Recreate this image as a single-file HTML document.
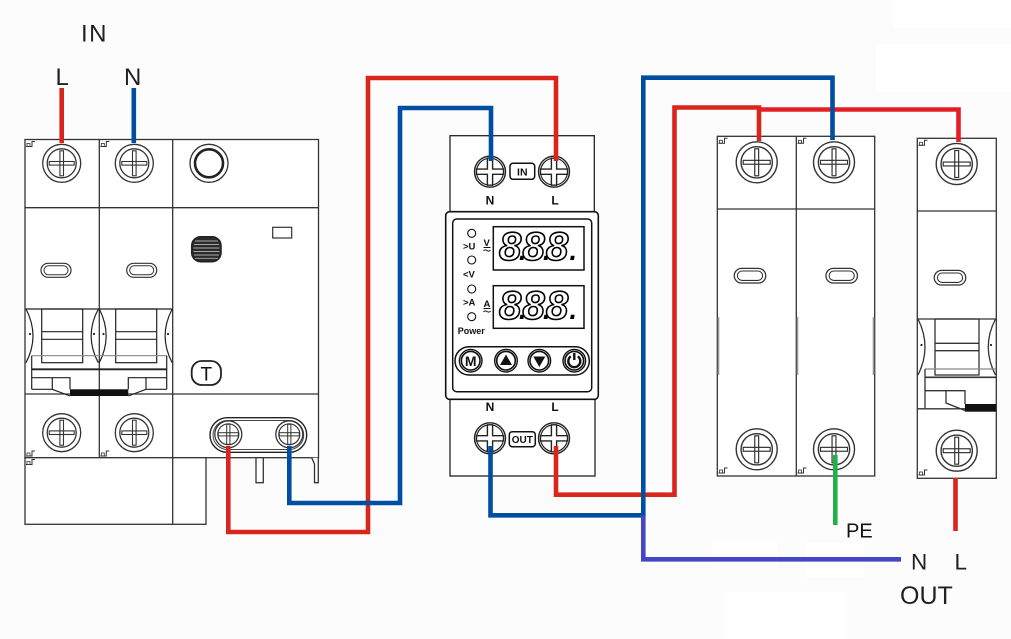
<!DOCTYPE html>
<html><head><meta charset="utf-8"><style>
html,body{margin:0;padding:0;background:#fcfcfc;}
svg{display:block}
text{font-family:"Liberation Sans",sans-serif}
</style></head><body>
<svg width="1011" height="639" viewBox="0 0 1011 639" xmlns="http://www.w3.org/2000/svg">
<defs>
<g id="tA">
 <circle r="19" fill="#fff" stroke="#333" stroke-width="1.3"/>
 <circle r="14.5" fill="none" stroke="#333" stroke-width="1.3"/>
 <rect x="-12.5" y="-1.8" width="25" height="3.6" fill="none" stroke="#333" stroke-width="1.1"/>
 <rect x="-1.8" y="-12.5" width="3.6" height="25" fill="none" stroke="#333" stroke-width="1.1"/>
</g>
<g id="tB">
 <circle r="15.5" fill="#fff" stroke="#222" stroke-width="1.4"/>
 <circle r="13.5" fill="none" stroke="#222" stroke-width="1.2"/>
 <path d="M-2.6,-13.5H2.6V-2.6H13.5V2.6H2.6V13.5H-2.6V2.6H-13.5V-2.6H-2.6Z" fill="#fff" stroke="#222" stroke-width="1.4"/>
</g>
<g id="tC">
 <circle r="13.5" fill="#fff" stroke="#333" stroke-width="1.3"/>
 <circle r="10.5" fill="none" stroke="#333" stroke-width="1.2"/>
 <rect x="-10" y="-1.6" width="20" height="3.2" fill="none" stroke="#333" stroke-width="1"/>
 <rect x="-1.6" y="-10" width="3.2" height="20" fill="none" stroke="#333" stroke-width="1"/>
</g>
<g id="oval">
 <rect x="-15" y="-7" width="30" height="14" rx="7" fill="none" stroke="#333" stroke-width="1.2"/>
 <rect x="-12" y="-4.5" width="24" height="9" rx="4.5" fill="none" stroke="#333" stroke-width="1"/>
</g>
<g id="notch">
 <path d="M0,6H6V1H9" fill="none" stroke="#333" stroke-width="1"/>
 <rect x="1" y="3" width="3" height="3" fill="none" stroke="#333" stroke-width="0.8"/>
</g>
</defs>

<!-- subtle white patches -->
<rect x="893" y="0" width="118" height="28" fill="#fff"/>
<rect x="876" y="44" width="135" height="48" fill="#fff"/>
<rect x="713" y="541" width="64" height="27" fill="#fff"/>
<rect x="806" y="543" width="57" height="34" fill="#fff"/>
<rect x="725" y="592" width="121" height="47" fill="#fff"/>

<!-- ============ LEFT RCBO ============ -->
<g fill="none" stroke="#333" stroke-width="1.3">
 <rect x="25" y="139.5" width="293.5" height="318.2" fill="#fff"/>
 <rect x="25" y="457.7" width="181" height="66.6" fill="#fff"/>
 <line x1="99.3" y1="139.5" x2="99.3" y2="457.7"/>
 <line x1="172.7" y1="139.5" x2="172.7" y2="524.3"/>
 <line x1="25" y1="207.7" x2="318.5" y2="207.7"/>
 <line x1="25" y1="394" x2="318.5" y2="394"/>
 <rect x="256" y="457.7" width="7.3" height="25" fill="#fff"/>
 <path d="M311.7,457.7L314.5,464V482.7H318.3V457.7" fill="#fff"/>
</g>
<use href="#notch" x="26" y="140.5"/>
<use href="#notch" x="100.3" y="140.5"/>
<use href="#notch" x="26" y="450"/>
<use href="#notch" x="100.3" y="450"/>
<use href="#notch" x="26" y="458.5"/>
<use href="#tA" x="61.7" y="163.3"/>
<use href="#tA" x="134.3" y="163.3"/>
<circle cx="209" cy="163.3" r="19" fill="#fff" stroke="#333" stroke-width="1.3"/>
<circle cx="209" cy="163.3" r="14" fill="none" stroke="#222" stroke-width="2.6"/>
<use href="#oval" x="56" y="270.3"/>
<use href="#oval" x="141.7" y="270.3"/>
<rect x="191.7" y="236.7" width="29.3" height="25" rx="9" fill="#2a2a2a" stroke="#222" stroke-width="1.5"/>
<g stroke="#aaa" stroke-width="0.9">
 <line x1="195" y1="241" x2="218" y2="241"/>
 <line x1="194" y1="244.5" x2="219" y2="244.5"/>
 <line x1="193.5" y1="248" x2="219.5" y2="248"/>
 <line x1="193.5" y1="251.5" x2="219.5" y2="251.5"/>
 <line x1="194" y1="255" x2="219" y2="255"/>
 <line x1="195" y1="258.3" x2="218" y2="258.3"/>
</g>
<rect x="272.7" y="227.3" width="19" height="10.7" fill="none" stroke="#333" stroke-width="1.2"/>
<rect x="191.7" y="361" width="29.3" height="24" rx="10" fill="#fff" stroke="#222" stroke-width="1.8"/>
<text x="206.3" y="380.5" font-size="19" text-anchor="middle" fill="#111">T</text>
<g fill="none" stroke="#222" stroke-width="1.2">
 <line x1="25.7" y1="309" x2="172.7" y2="309"/>
 <path d="M26,309Q40,336 26,362.7"/>
 <path d="M98.3,309Q84,336 98.3,362.7"/>
 <path d="M99.3,309Q113,336 99.3,362.7"/>
 <path d="M172.2,309Q158,336 172.2,362.7"/>
 <rect x="41.7" y="309" width="41" height="53.7"/>
 <rect x="115.7" y="309" width="41" height="53.7"/>
 <line x1="41.7" y1="331.7" x2="82.7" y2="331.7"/>
 <line x1="41.7" y1="339.3" x2="82.7" y2="339.3"/>
 <line x1="115.7" y1="331.7" x2="156.7" y2="331.7"/>
 <line x1="115.7" y1="339.3" x2="156.7" y2="339.3"/>
 <line x1="31.7" y1="355.7" x2="166.7" y2="355.7" stroke="#888"/>
 <line x1="31.7" y1="355.7" x2="31.7" y2="389.3"/>
 <line x1="166.7" y1="355.7" x2="166.7" y2="389.3"/>
 <line x1="31.7" y1="369.3" x2="166.7" y2="369.3" stroke-width="1.9"/>
 <path d="M31.7,377.7H70V389.3M52.3,377.7V389.3L70,396M31.7,389.3H52.3"/>
 <path d="M166.7,377.7H128.3V389.3M146,377.7V389.3L128.3,396M166.7,389.3H146"/>
</g>
<rect x="70" y="389.3" width="58.3" height="6.7" fill="#111"/>
<g fill="#222">
 <circle cx="30" cy="334" r="1.1"/><circle cx="94" cy="334" r="1.1"/>
 <circle cx="103.5" cy="334" r="1.1"/><circle cx="168" cy="334" r="1.1"/>
</g>
<use href="#tA" x="61.7" y="432.7"/>
<use href="#tA" x="134.3" y="432.7"/>
<rect x="210" y="417.7" width="96.7" height="34.6" rx="17.3" fill="#fff" stroke="#222" stroke-width="1.4"/>
<rect x="213" y="420.5" width="90.7" height="29" rx="14.5" fill="none" stroke="#444" stroke-width="1"/>
<use href="#tC" x="228.3" y="434.3"/>
<use href="#tC" x="289.3" y="434.3"/>

<!-- ============ CENTER DEVICE ============ -->
<rect x="450" y="135.7" width="144.3" height="80" fill="#fff" stroke="#222" stroke-width="1.3"/>
<rect x="450" y="395" width="145" height="81" fill="#fff" stroke="#222" stroke-width="1.3"/>
<rect x="445.7" y="211.7" width="152.6" height="187.6" rx="4" fill="#fff" stroke="#111" stroke-width="1.6"/>
<rect x="452.7" y="219" width="139" height="172.7" rx="4" fill="#fff" stroke="#111" stroke-width="1.5"/>
<use href="#tB" x="490" y="171.7"/>
<use href="#tB" x="554" y="171.7"/>
<rect x="510" y="163.3" width="24.7" height="16" rx="3" fill="#fff" stroke="#111" stroke-width="1.5"/>
<text x="522.3" y="175.5" font-size="10.5" font-weight="bold" text-anchor="middle" fill="#111">IN</text>
<text x="490" y="204.5" font-size="12" font-weight="bold" text-anchor="middle" fill="#111">N</text>
<text x="555" y="204.5" font-size="12" font-weight="bold" text-anchor="middle" fill="#111">L</text>
<rect x="493.3" y="226.7" width="90.7" height="43.3" fill="#fff" stroke="#111" stroke-width="1.5"/>
<rect x="493.3" y="285.7" width="90.7" height="42.6" fill="#fff" stroke="#111" stroke-width="1.5"/>
<g font-size="40" font-style="italic" font-weight="bold" fill="#fff" stroke="#000" stroke-width="1.6">
 <text y="260"><tspan x="499">8</tspan><tspan x="518" fill="#000" stroke="none" font-weight="normal">.</tspan><tspan x="522.5">8</tspan><tspan x="542" fill="#000" stroke="none" font-weight="normal">.</tspan><tspan x="546">8</tspan><tspan x="568.5" fill="#000" stroke="none" font-weight="normal">.</tspan></text>
 <text y="319"><tspan x="499">8</tspan><tspan x="518" fill="#000" stroke="none" font-weight="normal">.</tspan><tspan x="522.5">8</tspan><tspan x="542" fill="#000" stroke="none" font-weight="normal">.</tspan><tspan x="546">8</tspan><tspan x="568.5" fill="#000" stroke="none" font-weight="normal">.</tspan></text>
</g>
<g fill="#fff" stroke="#111" stroke-width="1.1">
 <circle cx="471.7" cy="233.3" r="4"/>
 <circle cx="471.7" cy="260" r="4"/>
 <circle cx="471.7" cy="289" r="4"/>
 <circle cx="471.7" cy="316.7" r="4"/>
</g>
<g font-size="9.5" font-weight="bold" fill="#111">
 <text x="463" y="249.5">&gt;U</text>
 <text x="483.5" y="246">V</text>
 <text x="463" y="277.5">&lt;V</text>
 <text x="463" y="305.5">&gt;A</text>
 <text x="483.5" y="307">A</text>
 <text x="457.7" y="333.8" font-size="9">Power</text>
</g>
<g fill="none" stroke="#111" stroke-width="1">
 <line x1="483.5" y1="247.5" x2="490.5" y2="247.5"/>
 <path d="M483.5,251Q485,249 487,250.5T490.5,250"/>
 <line x1="483.5" y1="308.5" x2="490.5" y2="308.5"/>
 <path d="M483.5,312Q485,310 487,311.5T490.5,311"/>
</g>
<rect x="455" y="346.7" width="134.3" height="28.3" rx="14" fill="#fff" stroke="#111" stroke-width="1.5"/>
<g fill="#fff" stroke="#111">
 <circle cx="470.7" cy="360.7" r="11.3" stroke-width="1.4"/>
 <circle cx="470.7" cy="360.7" r="9.3" stroke-width="1.6"/>
 <circle cx="506" cy="360.7" r="11.3" stroke-width="1.4"/>
 <circle cx="506" cy="360.7" r="9.3" stroke-width="1.6"/>
 <circle cx="539.3" cy="360.7" r="11.3" stroke-width="1.4"/>
 <circle cx="539.3" cy="360.7" r="9.3" stroke-width="1.6"/>
 <circle cx="574.3" cy="360.7" r="11.3" stroke-width="1.4"/>
 <circle cx="574.3" cy="360.7" r="9.3" stroke-width="1.6"/>
</g>
<text x="470.7" y="366" font-size="14" font-weight="bold" text-anchor="middle" fill="#111">M</text>
<path d="M506,354.5L512,365H500Z" fill="#111"/>
<path d="M539.3,367L533.3,356.5H545.3Z" fill="#111"/>
<path d="M570.8,356.3A6,6 0 1 0 577.8,356.3" fill="none" stroke="#111" stroke-width="2.4"/>
<line x1="574.3" y1="353" x2="574.3" y2="360" stroke="#111" stroke-width="2.4"/>
<text x="490" y="411" font-size="12" font-weight="bold" text-anchor="middle" fill="#111">N</text>
<text x="555" y="411" font-size="12" font-weight="bold" text-anchor="middle" fill="#111">L</text>
<use href="#tB" x="490" y="438.3"/>
<use href="#tB" x="554" y="438.3"/>
<rect x="509.3" y="431.7" width="26" height="15" rx="3" fill="#fff" stroke="#111" stroke-width="1.5"/>
<text x="522.3" y="443" font-size="10" font-weight="bold" text-anchor="middle" fill="#111">OUT</text>

<!-- ============ RIGHT SPD (2 pole) ============ -->
<g fill="none" stroke="#333" stroke-width="1.3">
 <rect x="717.3" y="136.3" width="157.4" height="339.7" fill="#fff"/>
 <line x1="796.3" y1="136.3" x2="796.3" y2="476"/>
 <line x1="717.3" y1="209" x2="874.7" y2="209"/>
</g>
<g stroke="#999" stroke-width="1.6">
 <line x1="718.5" y1="317" x2="718.5" y2="375"/>
 <line x1="797.5" y1="317" x2="797.5" y2="375"/>
 <line x1="873.5" y1="317" x2="873.5" y2="375"/>
</g>
<use href="#notch" x="718.5" y="137.3"/>
<use href="#notch" x="797.5" y="137.3"/>
<use href="#notch" x="718.5" y="467"/>
<use href="#notch" x="797.5" y="467"/>
<g transform="translate(756.7,162.3) scale(1.08)"><use href="#tA"/></g>
<g transform="translate(834,162.3) scale(1.08)"><use href="#tA"/></g>
<g transform="translate(750,275.7) scale(1.05)"><use href="#oval"/></g>
<g transform="translate(841.7,275.7) scale(1.05)"><use href="#oval"/></g>
<g transform="translate(756.7,449.3) scale(1.08)"><use href="#tA"/></g>
<g transform="translate(834,449.3) scale(1.08)"><use href="#tA"/></g>

<!-- ============ RIGHT 1P breaker ============ -->
<g fill="none" stroke="#333" stroke-width="1.3">
 <rect x="917.3" y="138.3" width="79" height="340" fill="#fff"/>
 <line x1="917.3" y1="211" x2="996.3" y2="211"/>
 <line x1="917.3" y1="319" x2="996.3" y2="319"/>
 <path d="M918,319Q932,347 918,375"/>
 <path d="M995.5,319Q981,347 995.5,375"/>
 <rect x="935" y="319" width="44" height="56"/>
 <line x1="935" y1="343.3" x2="979" y2="343.3"/>
 <line x1="935" y1="350.7" x2="979" y2="350.7"/>
 <line x1="925" y1="369" x2="996" y2="369" stroke="#888"/>
 <line x1="925" y1="369" x2="925" y2="408.3"/>
 <line x1="925" y1="377.3" x2="996" y2="377.3" stroke-width="1.7"/>
 <path d="M925,390.7H965V404M946,390.7V403L965,410.5"/>
 <line x1="917.3" y1="408.8" x2="965" y2="408.8"/>
</g>
<rect x="965" y="404" width="31" height="7.7" fill="#111"/>
<circle cx="921.5" cy="345" r="1.1" fill="#222"/>
<circle cx="991" cy="345" r="1.1" fill="#222"/>
<use href="#notch" x="918.5" y="139.3"/>
<use href="#notch" x="918.5" y="469"/>
<g transform="translate(956.7,164) scale(1.08)"><use href="#tA"/></g>
<g transform="translate(950,277.7) scale(1.05)"><use href="#oval"/></g>
<g transform="translate(956.7,450.7) scale(1.08)"><use href="#tA"/></g>

<!-- ============ WIRES ============ -->
<g fill="none" stroke-width="4.6" stroke-linejoin="miter" stroke-linecap="butt">
 <path d="M61.7,88V143" stroke="#d9261c"/>
 <path d="M228.3,446V532H368V78H556V161" stroke="#d9261c"/>
 <path d="M556,446V494.7H674.5V107.5H759V141" stroke="#d9261c"/>
 <path d="M759,109.5H958.5V142" stroke="#e31e25"/>
 <path d="M955.5,478V531" stroke="#d9261c"/>
 <path d="M133.8,88V143" stroke="#004ea2"/>
 <path d="M289.3,446V503H400V108H491V161" stroke="#004ea2"/>
 <path d="M490.5,446V515.3H643.3V77.7H832.5V140" stroke="#004ea2"/>
 <path d="M643.3,515.3V559.3H901" stroke="#4446c8"/>
 <path d="M835.3,455V525" stroke="#22b04b"/>
</g>

<!-- ============ LABELS ============ -->
<g font-size="24" fill="#231f20">
 <text x="81" y="41.5" letter-spacing="1.5">IN</text>
 <text x="55.5" y="85">L</text>
 <text x="124" y="85">N</text>
</g>
<text x="846" y="537.5" font-size="20" fill="#111">PE</text>
<text x="911" y="569.5" font-size="22.5" fill="#231f20">N</text>
<text x="954.5" y="569.5" font-size="22.5" fill="#231f20">L</text>
<text x="900" y="604" font-size="25" fill="#231f20">OUT</text>
</svg>
</body></html>
